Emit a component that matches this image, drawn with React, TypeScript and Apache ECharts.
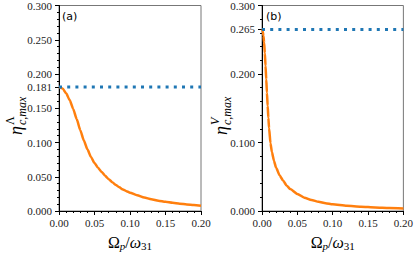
import React, { useEffect, useRef } from "react";
import * as echarts from "echarts";

// Panel (a)
const xA = [0, 0.005, 0.01, 0.015, 0.02, 0.025, 0.03, 0.035, 0.04, 0.045, 0.05, 0.055, 0.06, 0.065, 0.07, 0.075, 0.08, 0.085, 0.09, 0.095, 0.1, 0.11, 0.12, 0.13, 0.14, 0.15, 0.16, 0.17, 0.18, 0.19, 0.2];
const yA = [0.181, 0.179, 0.172, 0.162, 0.149, 0.134, 0.118, 0.103, 0.09, 0.079, 0.07, 0.063, 0.057, 0.0515, 0.0465, 0.042, 0.038, 0.0345, 0.0315, 0.029, 0.0268, 0.023, 0.0198, 0.0172, 0.0151, 0.0134, 0.0119, 0.0107, 0.0096, 0.0086, 0.0077];
// Panel (b)
const xB = [0, 0.001, 0.002, 0.003, 0.004, 0.005, 0.006, 0.007, 0.008, 0.009, 0.01, 0.012, 0.014, 0.017, 0.02, 0.025, 0.03, 0.035, 0.04, 0.05, 0.06, 0.07, 0.08, 0.09, 0.1, 0.12, 0.14, 0.16, 0.18, 0.2];
const yB = [0.265, 0.2625, 0.256, 0.246, 0.2305, 0.212, 0.1925, 0.1725, 0.1535, 0.136, 0.121, 0.099, 0.086, 0.073, 0.063, 0.052, 0.044, 0.037, 0.032, 0.025, 0.0195, 0.016, 0.0134, 0.0114, 0.0098, 0.0076, 0.0062, 0.0052, 0.0044, 0.0038];

const peakA = 0.181;
const peakB = 0.265;
const xRange = [0, 0.2];
const yTicksA = [0, 0.05, 0.1, 0.15, 0.181, 0.2, 0.25, 0.3];
const yTicksB = [0, 0.1, 0.2, 0.265, 0.3];

const SERIF = '"Liberation Serif", "DejaVu Serif", serif';
const ORANGE = "#ff7f0e";
const BLUE = "#1f77b4";

function xAxisCfg(gridIndex: number) {
  return {
    type: "value",
    gridIndex,
    min: 0,
    max: 0.2,
    interval: 0.05,
    name: "{m|Ω}{sp|p}{m|/}{i|ω}{sn|31}",
    nameLocation: "middle",
    nameGap: 22,
    nameTextStyle: {
      rich: {
        m: { fontFamily: SERIF, fontSize: 16, lineHeight: 18, color: "#000" },
        i: { fontFamily: SERIF, fontSize: 16, fontStyle: "italic", lineHeight: 18, color: "#000" },
        sp: { fontFamily: SERIF, fontSize: 11, fontStyle: "italic", lineHeight: 10, verticalAlign: "bottom", color: "#000" },
        sn: { fontFamily: SERIF, fontSize: 11, lineHeight: 10, verticalAlign: "bottom", color: "#000" },
      },
    },
    axisLine: { show: true, onZero: false, lineStyle: { color: "#000", width: 1 } },
    axisTick: { show: true, length: 4, lineStyle: { color: "#000", width: 1 } },
    minorTick: { show: true, splitNumber: 5, length: 2, lineStyle: { color: "#000", width: 1 } },
    axisLabel: {
      margin: 6,
      fontFamily: SERIF,
      fontSize: 11,
      color: "#222",
      formatter: (v: number) => v.toFixed(2),
    },
    splitLine: { show: false },
    minorSplitLine: { show: false },
  };
}

function yAxisCfg(gridIndex: number, interval: number, ticks: number[]) {
  return {
    type: "value",
    gridIndex,
    min: 0,
    max: 0.3,
    interval,
    axisLine: { show: true, onZero: false, lineStyle: { color: "#000", width: 1 } },
    axisTick: { show: true, length: 4, customValues: ticks, lineStyle: { color: "#000", width: 1 } },
    minorTick: { show: true, splitNumber: 5, length: 2, lineStyle: { color: "#000", width: 1 } },
    axisLabel: {
      margin: 7,
      fontFamily: SERIF,
      fontSize: 11,
      color: "#222",
      customValues: ticks,
      formatter: (v: number) => v.toFixed(3),
    },
    splitLine: { show: false },
    minorSplitLine: { show: false },
  };
}

function yLabel(x: number, y: number, sup: string, supItalic: boolean) {
  return {
    type: "group",
    x,
    y,
    rotation: Math.PI / 2,
    silent: true,
    children: [
      {
        type: "text",
        style: {
          text: "η",
          x: -22,
          y: 0,
          font: `italic 18px ${SERIF}`,
          fill: "#000",
          textVerticalAlign: "middle",
          textAlign: "left",
        },
      },
      {
        type: "text",
        style: {
          text: sup,
          x: -12,
          y: -6,
          font: `${supItalic ? "italic " : ""}12px ${SERIF}`,
          fill: "#000",
          textVerticalAlign: "middle",
          textAlign: "left",
        },
      },
      {
        type: "text",
        style: {
          text: "c,max",
          x: -12,
          y: 6,
          font: `italic 12px ${SERIF}`,
          fill: "#000",
          textVerticalAlign: "middle",
          textAlign: "left",
        },
      },
    ],
  };
}

export default function App() {
  const ref = useRef<HTMLDivElement>(null);
  useEffect(() => {
    if (!ref.current) return;
    const chart = echarts.init(ref.current, null, { renderer: "svg" });
    const grid = (left: number, right: number) => ({
      left,
      right,
      top: 5,
      bottom: 38,
      show: true,
      borderColor: "#777",
      borderWidth: 1,
      backgroundColor: "transparent",
      containLabel: false,
    });
    const curve = (xi: number, xs: number[], ys: number[]) => ({
      type: "line",
      xAxisIndex: xi,
      yAxisIndex: xi,
      data: xs.map((x, i) => [x, ys[i]]),
      showSymbol: false,
      smooth: 0.2,
      smoothMonotone: "x",
      lineStyle: { color: ORANGE, width: 2.5 },
      z: 2,
    });
    const peak = (xi: number, v: number) => ({
      type: "line",
      xAxisIndex: xi,
      yAxisIndex: xi,
      data: xRange.map((x) => [x, v]),
      showSymbol: false,
      lineStyle: { color: BLUE, width: 3, type: [3, 5.2], cap: "butt" },
      z: 3,
    });
    chart.setOption({
      animation: false,
      backgroundColor: "#fff",
      grid: [grid(59, 215), grid(262, 12)],
      xAxis: [xAxisCfg(0), xAxisCfg(1)],
      yAxis: [yAxisCfg(0, 0.05, yTicksA), yAxisCfg(1, 0.1, yTicksB)],
      series: [curve(0, xA, yA), peak(0, peakA), curve(1, xB, yB), peak(1, peakB)],
      graphic: [
        {
          type: "text",
          left: 62,
          top: 11,
          style: { text: "(a)", font: '11px "DejaVu Sans", sans-serif', fill: "#000" },
        },
        {
          type: "text",
          left: 266,
          top: 11,
          style: { text: "(b)", font: '11px "DejaVu Sans", sans-serif', fill: "#000" },
        },
        yLabel(16, 113, "Λ", false),
        yLabel(221, 113, "V", true),
      ],
    });
    return () => chart.dispose();
  }, []);
  return <div ref={ref} style={{ width: 416, height: 256, position: "absolute", left: 0, top: 0 }} />;
}
